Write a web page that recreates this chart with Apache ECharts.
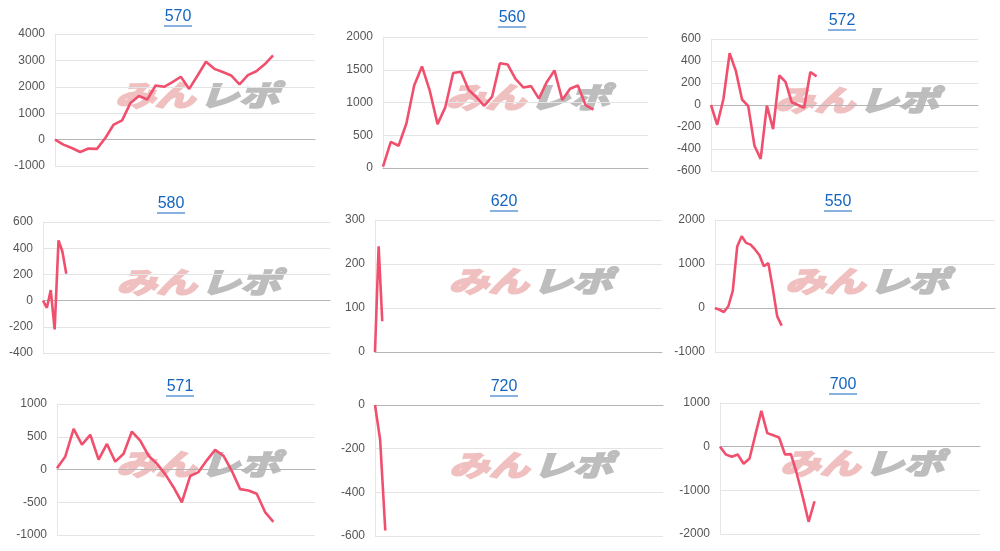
<!DOCTYPE html>
<html><head><meta charset="utf-8">
<script src="https://cdn.jsdelivr.net/npm/echarts@6/dist/echarts.min.js"></script>
<style>html,body{margin:0;padding:0;background:#fff}#c{width:1000px;height:551px}</style>
</head><body><div id="c"></div>
<script>
const titles = ['570','560','572','580','620','550','571','720','700'];
const v570 = [0,-190,-320,-470,-340,-350,60,570,730,1390,1650,1520,2050,2000,2180,2380,1920,2430,2950,2680,2560,2430,2090,2440,2590,2850,3190];
const v560 = [20,400,340,680,1260,1550,1180,670,930,1450,1470,1190,1080,950,1090,1600,1580,1360,1230,1250,1060,1310,1490,1040,1210,1260,960,890];
const v572 = [0,-180,55,470,310,50,-10,-370,-490,-5,-220,270,210,25,0,-25,300,260];
const v580 = [0,-55,80,-220,460,375,205];
const v620 = [0,240,70];
const v550 = [0,-40,-90,40,390,1400,1630,1480,1440,1330,1200,950,1020,450,-190,-400];
const v571 = [20,200,620,380,530,150,390,120,240,580,440,210,90,-70,-270,-500,-100,-40,140,300,210,-20,-300,-320,-370,-650,-800];
const v720 = [0,-160,-575];
const v700 = [0,-180,-230,-180,-390,-270,280,820,310,260,210,-180,-170,-620,-1150,-1720,-1250];
const slots = [32,35,44,75,80,64,32,57,45];
const yMin = [-1000,0,-600,-400,0,-1000,-1000,-600,-2000];
const yMax = [4000,2000,600,600,300,2000,1000,0,1000];
const yInt = [1000,500,200,200,100,1000,500,200,1000];
const values = [v570,v560,v572,v580,v620,v550,v571,v720,v700];
const rects = [[55,34,260,132],[383,37,265,131],[711,39,267,132],[43,222,287,131],[375,220,287,132],[715,220,280,132],[57,404,258,131],[375,405,288,131],[720,403,260,131]];
const titlePos = [[178,17],[512,18],[842,21],[171,204],[504,202],[838,202],[180,387],[504,387],[843,385]];

const chart = echarts.init(document.getElementById('c'));
const grid=[],xAxis=[],yAxis=[],series=[],graphic=[];
values.forEach((vals,i)=>{
  const r=rects[i];
  grid.push({left:r[0],top:r[1],width:r[2],height:r[3]});
  const cats=[];for(let k=0;k<slots[i];k++)cats.push(String(k));
  xAxis.push({type:'category',gridIndex:i,data:cats,boundaryGap:false,axisLabel:{show:false},axisTick:{show:false},
    axisLine:{show:true,onZero:true,lineStyle:{color:'#b5b5b5',width:1}},splitLine:{show:false}});
  yAxis.push({type:'value',gridIndex:i,min:yMin[i],max:yMax[i],interval:yInt[i],
    axisLine:{show:true,lineStyle:{color:'#e6e6e6'}},axisTick:{show:false},
    axisLabel:{color:'#555',fontSize:12,fontFamily:'Liberation Sans, Arial',margin:10,formatter:v=>String(v)},
    splitLine:{lineStyle:{color:'#e4e4e4'}}});
  series.push({type:'line',xAxisIndex:i,yAxisIndex:i,data:vals,symbol:'none',smooth:false,
    lineStyle:{color:'#f0506e',width:2.6},z:3});
  const tp=titlePos[i];
  graphic.push({type:'text',x:tp[0],y:tp[1],z:10,style:{text:titles[i],fill:'#1565c0',font:'16px "Liberation Sans", Arial',align:'center',verticalAlign:'middle'}});
  graphic.push({type:'line',shape:{x1:tp[0]-14,y1:tp[1]+9,x2:tp[0]+14,y2:tp[1]+9},style:{stroke:'#1565c0',lineWidth:1},z:10});
  const cx=r[0]+r[2]/2+12, cy=r[1]+r[3]*0.46;
  graphic.push({type:'text',x:cx-2,y:cy,scaleY:0.72,z:-1,zlevel:0,silent:true,style:{text:'みん',fill:'#f0c0c0',stroke:'#f0c0c0',lineWidth:3,font:'italic bold 40px "Noto Sans CJK JP"',align:'right',verticalAlign:'middle'}});
  graphic.push({type:'text',x:cx+2,y:cy,scaleY:0.72,z:-1,zlevel:0,silent:true,style:{text:'レポ',fill:'#bdbdbd',stroke:'#bdbdbd',lineWidth:3,font:'italic bold 40px "Noto Sans CJK JP"',align:'left',verticalAlign:'middle'}});
});
chart.setOption({animation:false,grid,xAxis,yAxis,series,graphic});
</script></body></html>
